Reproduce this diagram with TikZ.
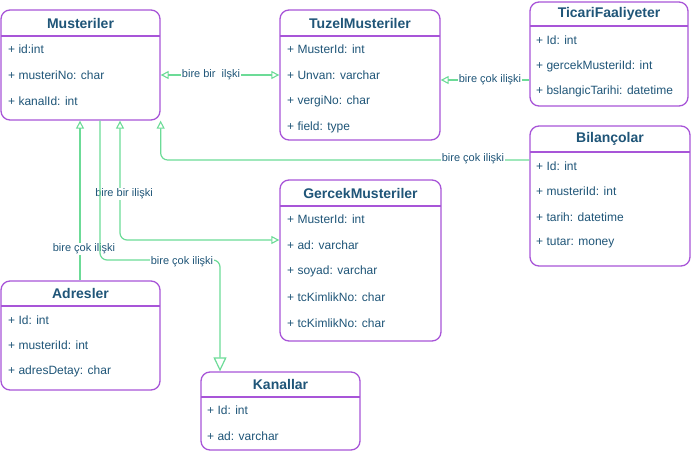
\documentclass[tikz,border=0pt]{standalone}
\usepackage{fontspec}
\setmainfont{Liberation Sans}
\usetikzlibrary{arrows.meta,fit}
\definecolor{boxc}{HTML}{A855D8}
\definecolor{linkc}{HTML}{6CDB97}
\definecolor{txtc}{HTML}{1F5578}
\tikzset{
  tbl/.style={draw=boxc, line width=1.3pt, rounded corners=9pt, inner sep=0pt, fill=white},
  hline/.style={draw=boxc, line width=1.1pt},
  ttl/.style={text=txtc, font=\fontsize{14}{16}\selectfont\bfseries, inner sep=0pt},
  row/.style={text=txtc, font=\fontsize{12}{14}\selectfont, anchor=west, inner sep=0pt},
  lbl/.style={text=txtc, font=\fontsize{11}{13}\selectfont, fill=white, inner sep=1pt},
  link/.style={draw=linkc, line width=1.2pt, rounded corners=7pt},
  tipend/.style={-{Triangle[open,length=8pt,width=8pt,line width=1.1pt]}},
  tipboth/.style={{Triangle[open,length=8pt,width=8pt,line width=1.1pt]}-{Triangle[open,length=8pt,width=8pt,line width=1.1pt]}},
  tipbig/.style={-{Triangle[open,length=14pt,width=13pt,line width=1.2pt]}},
}
\newcommand{\ubox}[7]{%
  \node[tbl, fit={(#2,#3) (#4,#5)}] (#1) {};
  \draw[hline] (#2,#6) -- (#4,#6);
  \node[ttl] (#1-t) at ({(#2+#4)/2},{(#3+#6)/2}) {#7};
}
\begin{document}
\begin{tikzpicture}[x=1pt,y=-1pt]
\useasboundingbox (0,0) rectangle (691,452);

% Musteriler
\ubox{M}{1}{10}{160}{120}{36}{Musteriler}
\node[row] (m1) at (8,49) {+ id:int};
\node[row] (m2) at (8,75) {+ musteriNo: char};
\node[row] (m3) at (8,101) {+ kanalId: int};

% TuzelMusteriler
\ubox{T}{280}{10}{440}{140}{36}{TuzelMusteriler}
\node[row] (t1) at (287,49) {+ MusterId: int};
\node[row] (t2) at (287,75) {+ Unvan: varchar};
\node[row] (t3) at (287,101) {+ vergiNo: char};
\node[row] (t4) at (287,127) {+ field: type};

% TicariFaaliyeter
\ubox{TF}{530}{2}{688}{106}{26}{TicariFaaliyeter}
\node[row] (f1) at (536,40) {+ Id: int};
\node[row] (f2) at (536,66) {+ gercekMusteriId: int};
\node[row] (f3) at (536,91) {+ bslangicTarihi: datetime};

% Bilancolar
\ubox{B}{530}{126}{690}{266}{152}{Bilançolar}
\node[row] (b1) at (536,166) {+ Id: int};
\node[row] (b2) at (536,191) {+ musteriId: int};
\node[row] (b3) at (536,217) {+ tarih: datetime};
\node[row] (b4) at (536,243) {+ tutar: money};

% GercekMusteriler
\ubox{G}{280}{180}{441}{341}{206}{GercekMusteriler}
\node[row] (g1) at (287,219) {+ MusterId: int};
\node[row] (g2) at (287,245) {+ ad: varchar};
\node[row] (g3) at (287,271) {+ soyad: varchar};
\node[row] (g4) at (287,297) {+ tcKimlikNo: char};
\node[row] (g5) at (287,323) {+ tcKimlikNo: char};

% Adresler
\ubox{A}{1}{281}{160}{390}{306}{Adresler}
\node[row] (a1) at (8,320) {+ Id: int};
\node[row] (a2) at (8,345) {+ musteriId: int};
\node[row] (a3) at (8,371) {+ adresDetay: char};

% Kanallar
\ubox{K}{201}{372}{360}{450}{397}{Kanallar}
\node[row] (k1) at (207,410) {+ Id: int};
\node[row] (k2) at (207,436) {+ ad: varchar};

% helper coordinates
\coordinate (y80) at (0,80);
\coordinate (y160) at (0,160);
\coordinate (y240) at (0,240);
\coordinate (x80) at (80,0);
\coordinate (x100) at (100,0);
\coordinate (x120) at (120,0);
\coordinate (c6) at (220,260);

% 1: Musteriler <-> TuzelMusteriler
\draw[link, tipboth] (M.east |- m2) -- (T.west |- m2);
\node[lbl] (l1) at (211,75) {bire bir\ \ ilşki};

% 2: TicariFaaliyeter -> TuzelMusteriler
\draw[link, tipend] (TF.west |- y80) -- (T.east |- y80);
\node[lbl] (l2) at (490,80) {bire çok ilişki};

% 3: Bilancolar -> Musteriler
\draw[link, tipend] (B.west |- y160) -| (M.south east);
\node[lbl] (l3) at (473,159) {bire çok ilişki};

% 4: Musteriler <-> GercekMusteriler
\draw[link, tipboth] (x120 |- M.south) |- (G.west |- y240);
\node[lbl] (l4) at (124,194) {bire bir ilişki};

% 5: Adresler -> Musteriler
\draw[link, tipend] (x80 |- A.north) -- (x80 |- M.south);
\node[lbl] (l5) at (84,249) {bire çok ilişki};

% 6: Musteriler -> Kanallar
\draw[link, tipbig] (x100 |- M.south) |- (c6) -- (c6 |- K.north);
\node[lbl] (l6) at (182,262) {bire çok ilişki};
\end{tikzpicture}
\end{document}
